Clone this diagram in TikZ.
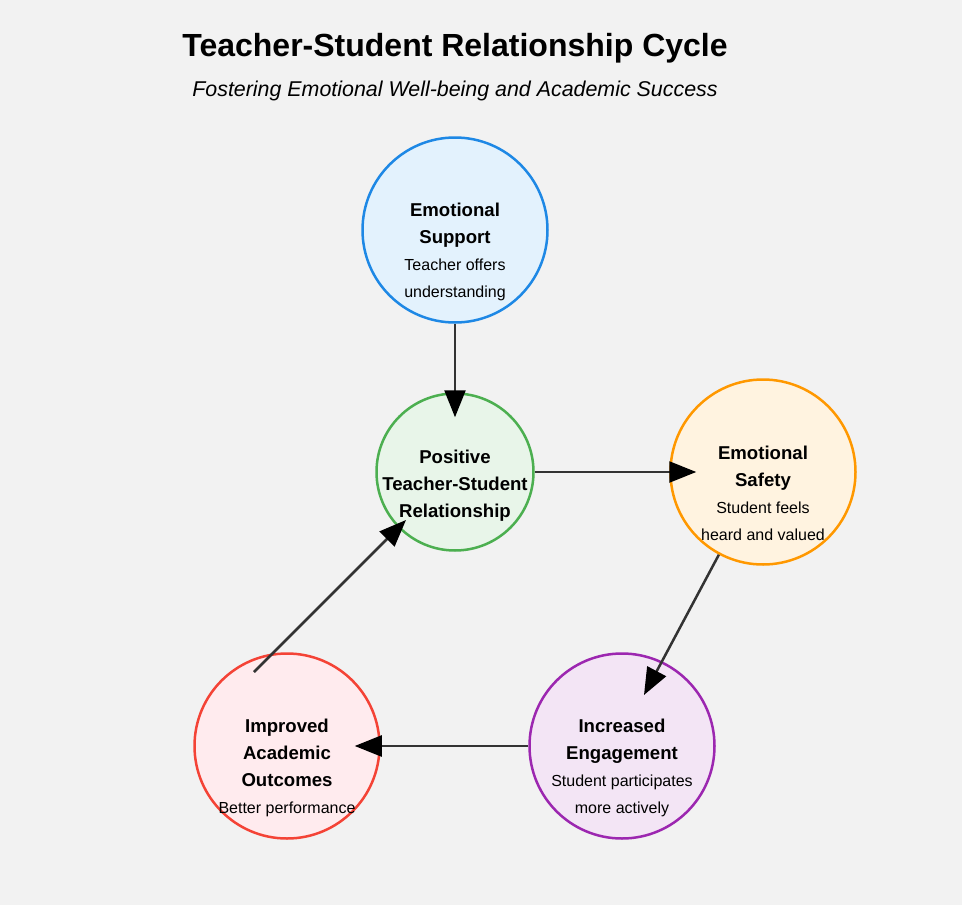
\documentclass[tikz,border=0pt]{standalone}
\usepackage{fontspec}
\setmainfont{Liberation Sans}
\usetikzlibrary{arrows.meta}
\definecolor{bg}{HTML}{F2F2F2}
\definecolor{supD}{HTML}{1E88E5}\definecolor{supF}{HTML}{E3F2FD}
\definecolor{posD}{HTML}{4CAF50}\definecolor{posF}{HTML}{E8F5E9}
\definecolor{safD}{HTML}{FF9800}\definecolor{safF}{HTML}{FFF3E0}
\definecolor{engD}{HTML}{9C27B0}\definecolor{engF}{HTML}{F3E5F5}
\definecolor{outD}{HTML}{F44336}\definecolor{outF}{HTML}{FFEBEE}
\definecolor{lineC}{HTML}{333333}
\newcommand{\hd}[1]{{\bfseries\fontsize{18.6}{27}\selectfont #1}}
\begin{document}
\begin{tikzpicture}[x=1pt,y=-1pt,
  circ/.style={circle, line width=2.5pt, inner sep=0pt, minimum size=#1},
  txt/.style={align=center, inner sep=0pt, font=\fontsize{16}{27}\selectfont},
  conn/.style={draw=lineC, line width=2.5pt, -{Triangle[length=27pt,width=21pt,color=black]}}
]
\useasboundingbox[fill=bg] (0,0) rectangle (962,905);

\node[font=\bfseries\fontsize{32}{38}\selectfont] (title) at (455,48) {Teacher-Student Relationship Cycle};
\node[font=\itshape\fontsize{21.4}{26}\selectfont] (sub) at (455,91) {Fostering Emotional Well-being and Academic Success};

\node[circ=185pt, draw=supD, fill=supF] (sup) at (455,230) {};
\node[circ=157pt, draw=posD, fill=posF] (pos) at (455,472) {};
\node[circ=185pt, draw=safD, fill=safF] (saf) at (763,472) {};
\node[circ=185pt, draw=engD, fill=engF] (eng) at (622,746) {};
\node[circ=185pt, draw=outD, fill=outF] (out) at (287,746) {};

\node[txt] (supT) at (455,252) {\hd{Emotional}\\\hd{Support}\\Teacher offers\\understanding};
\node[txt] (posT) at (455,486) {\hd{Positive}\\\hd{Teacher-Student}\\\hd{Relationship}};
\node[txt] (safT) at (763,493) {\hd{Emotional}\\\hd{Safety}\\Student feels\\heard and valued};
\node[txt] (engT) at (622,768) {\hd{Increased}\\\hd{Engagement}\\Student participates\\more actively};
\node[txt] (outT) at (287,768) {\hd{Improved}\\\hd{Academic}\\\hd{Outcomes}\\Better performance};

\coordinate (t3) at (644,695);
\coordinate (s5) at (254,672);
\coordinate (t5) at (406,520);

\draw[conn, shorten >=-25pt] (sup) -- (pos);
\draw[conn, shorten >=-27pt] (pos) -- (saf);
\draw[conn] (saf) -- (t3);
\draw[conn, shorten >=-26pt] (eng) -- (out);
\draw[conn] (s5) -- (t5);
\end{tikzpicture}
\end{document}
